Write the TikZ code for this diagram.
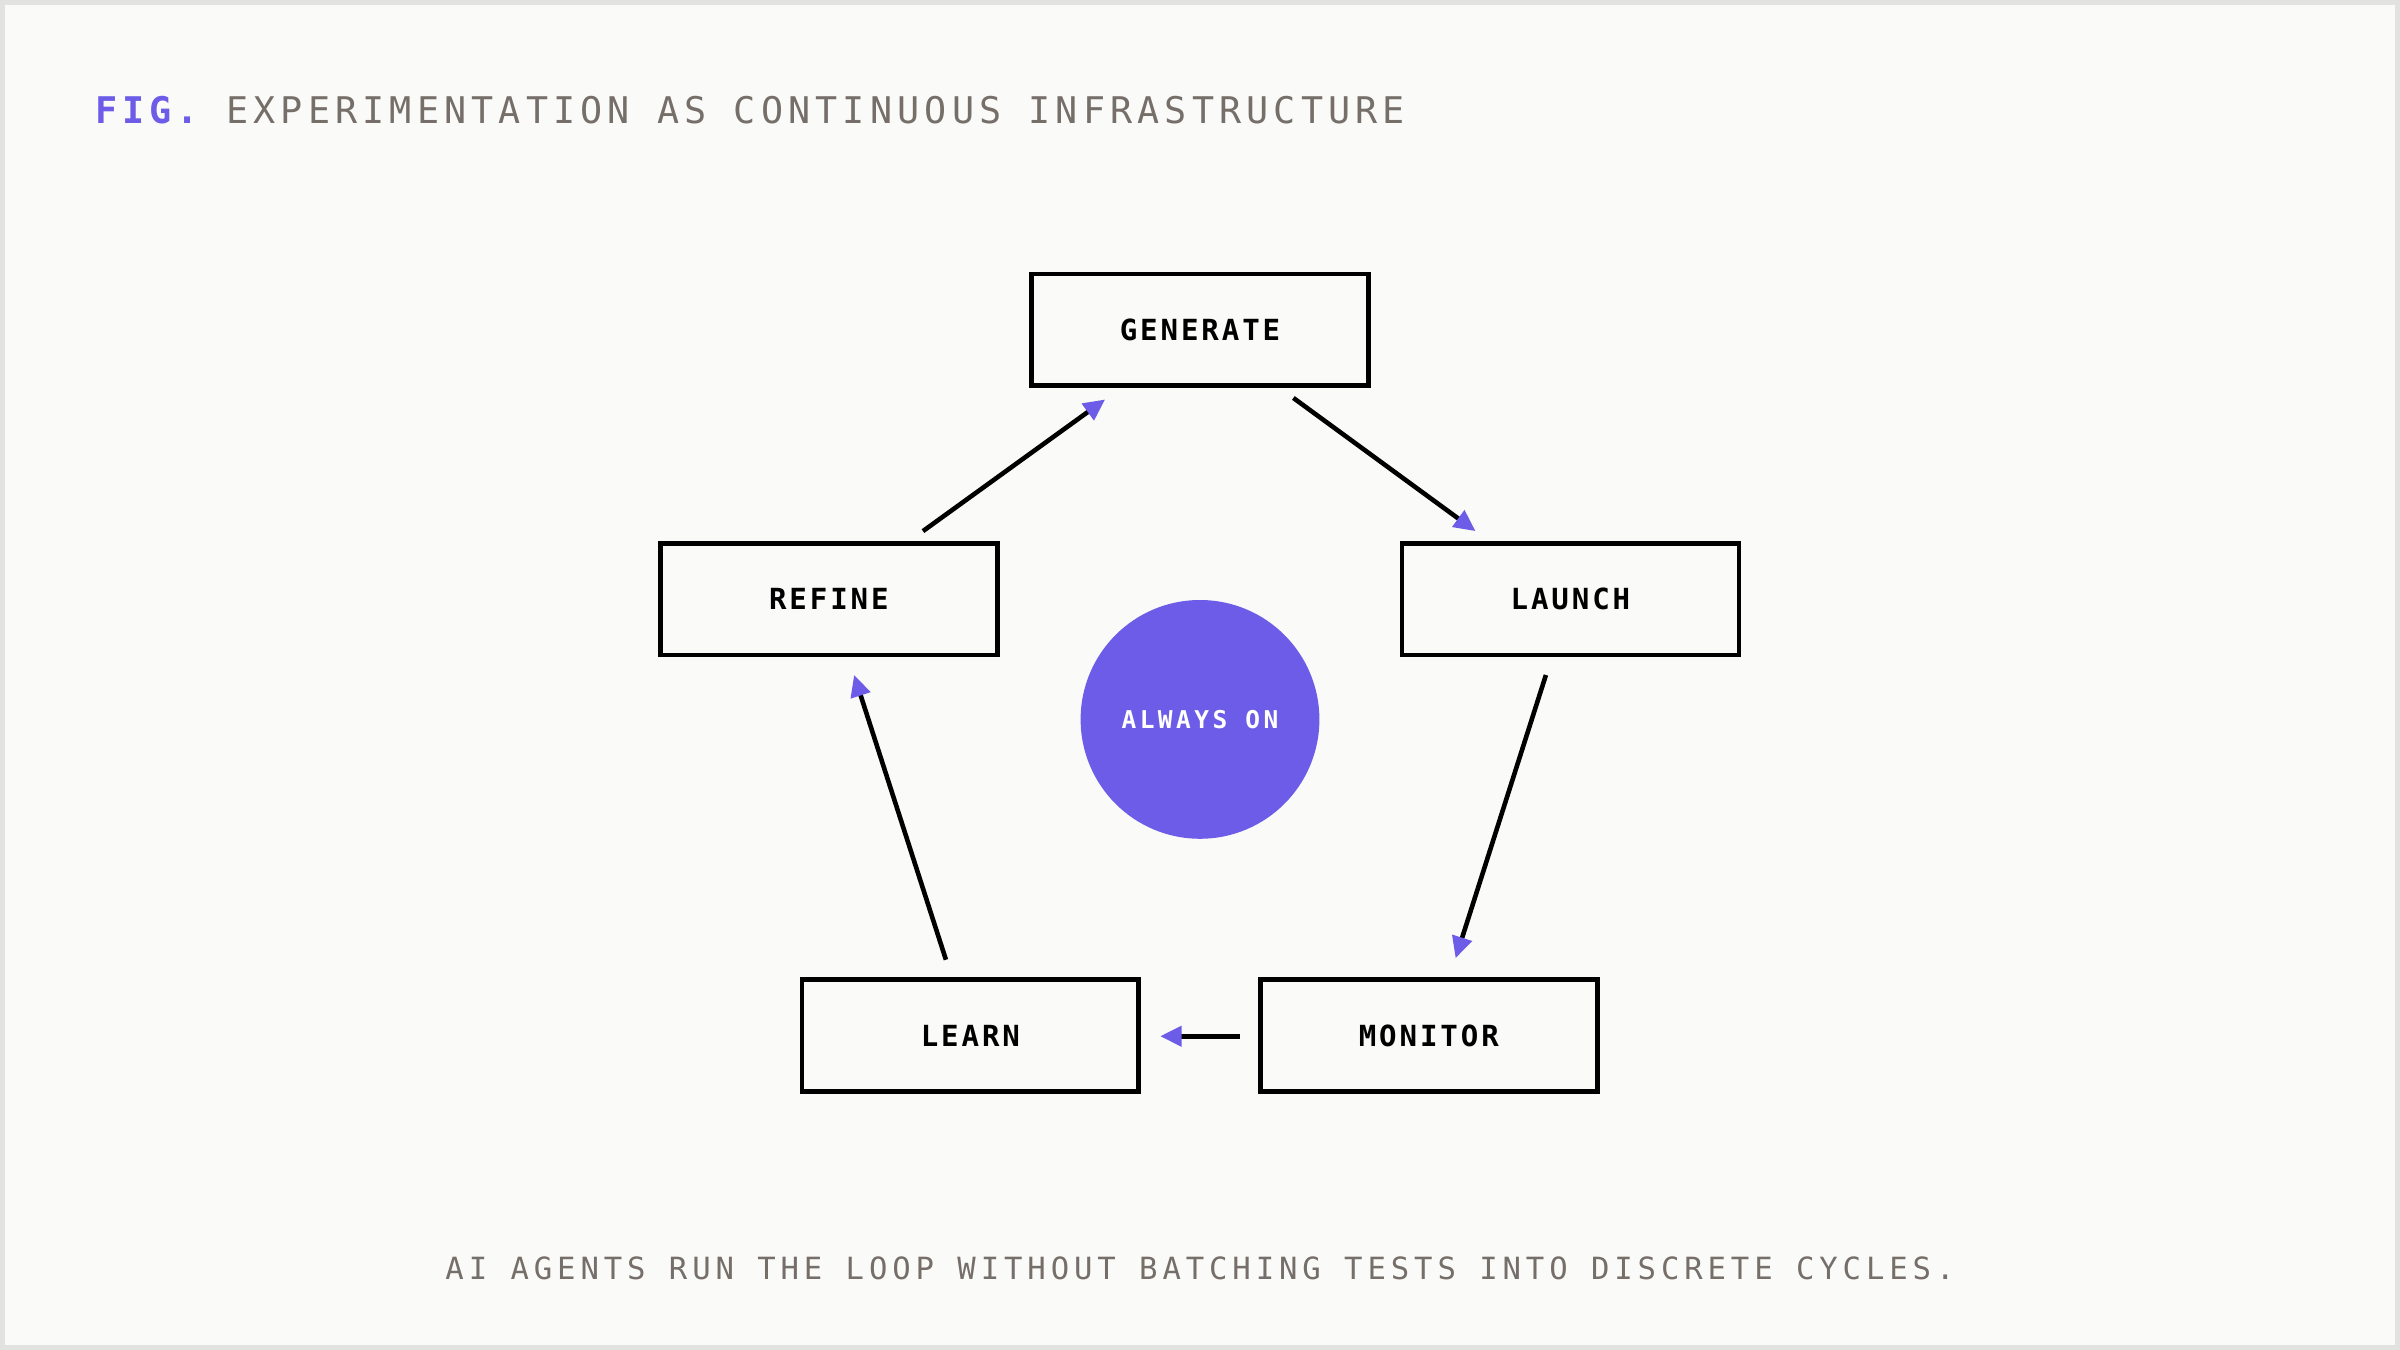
\documentclass[tikz,border=0pt]{standalone}
\usepackage{fontspec}
\setmonofont{DejaVu Sans Mono}
\usetikzlibrary{arrows.meta}
\definecolor{bg}{HTML}{FAFAF8}
\definecolor{frame}{HTML}{E2E2E0}
\definecolor{accent}{HTML}{6C5CE7}
\definecolor{muted}{HTML}{756E69}
\begin{document}
\begin{tikzpicture}[x=1pt,y=-1pt,
  box/.style={draw=black,line width=3pt,minimum width=220pt,minimum height=73pt,inner sep=0pt,
    font=\ttfamily\bfseries\fontsize{19}{22}\selectfont\addfontfeature{LetterSpace=10}},
  flow/.style={line width=3pt,-{Triangle[color=accent,length=14pt,width=13pt]}}]
\useasboundingbox (0,0) rectangle (1568,882);
\draw[frame,fill=bg,line width=3pt] (1.5,1.5) rectangle (1566.5,880.5);
\node[anchor=base west,inner sep=0pt,font=\ttfamily\fontsize{24}{28}\selectfont\addfontfeature{LetterSpace=14}] (title) at (62,81)
  {\textcolor{accent}{\bfseries FIG.} \textcolor{muted}{EXPERIMENTATION AS CONTINUOUS INFRASTRUCTURE}};
\node[box] (gen) at (784,215.5) {GENERATE};
\node[box] (ref) at (541.5,391.5) {REFINE};
\node[box] (lau) at (1026,391.5) {LAUNCH};
\node[box] (lea) at (634,676.5) {LEARN};
\node[box] (mon) at (933.5,676.5) {MONITOR};
\node[circle,fill=accent,minimum size=156pt,inner sep=0pt,text=white,
  font=\ttfamily\bfseries\fontsize{16}{20}\selectfont\addfontfeature{LetterSpace=14}] (on) at (784,470) {ALWAYS ON};
\coordinate (a1) at (603,347); \coordinate (b1) at (722,261);
\coordinate (a2) at (845,260); \coordinate (b2) at (964,347);
\coordinate (a3) at (1010,441); \coordinate (b3) at (951,626);
\coordinate (a4) at (810,677); \coordinate (b4) at (758,677);
\coordinate (a5) at (618,627); \coordinate (b5) at (558,441);
\draw[flow] (a1) -- (b1);
\draw[flow] (a2) -- (b2);
\draw[flow] (a3) -- (b3);
\draw[flow] (a4) -- (b4);
\draw[flow] (a5) -- (b5);
\node[anchor=base,inner sep=0pt,text=muted,font=\ttfamily\fontsize{20}{24}\selectfont\addfontfeature{LetterSpace=16}] (cap) at (784,836)
  {AI AGENTS RUN THE LOOP WITHOUT BATCHING TESTS INTO DISCRETE CYCLES.};
\end{tikzpicture}
\end{document}
